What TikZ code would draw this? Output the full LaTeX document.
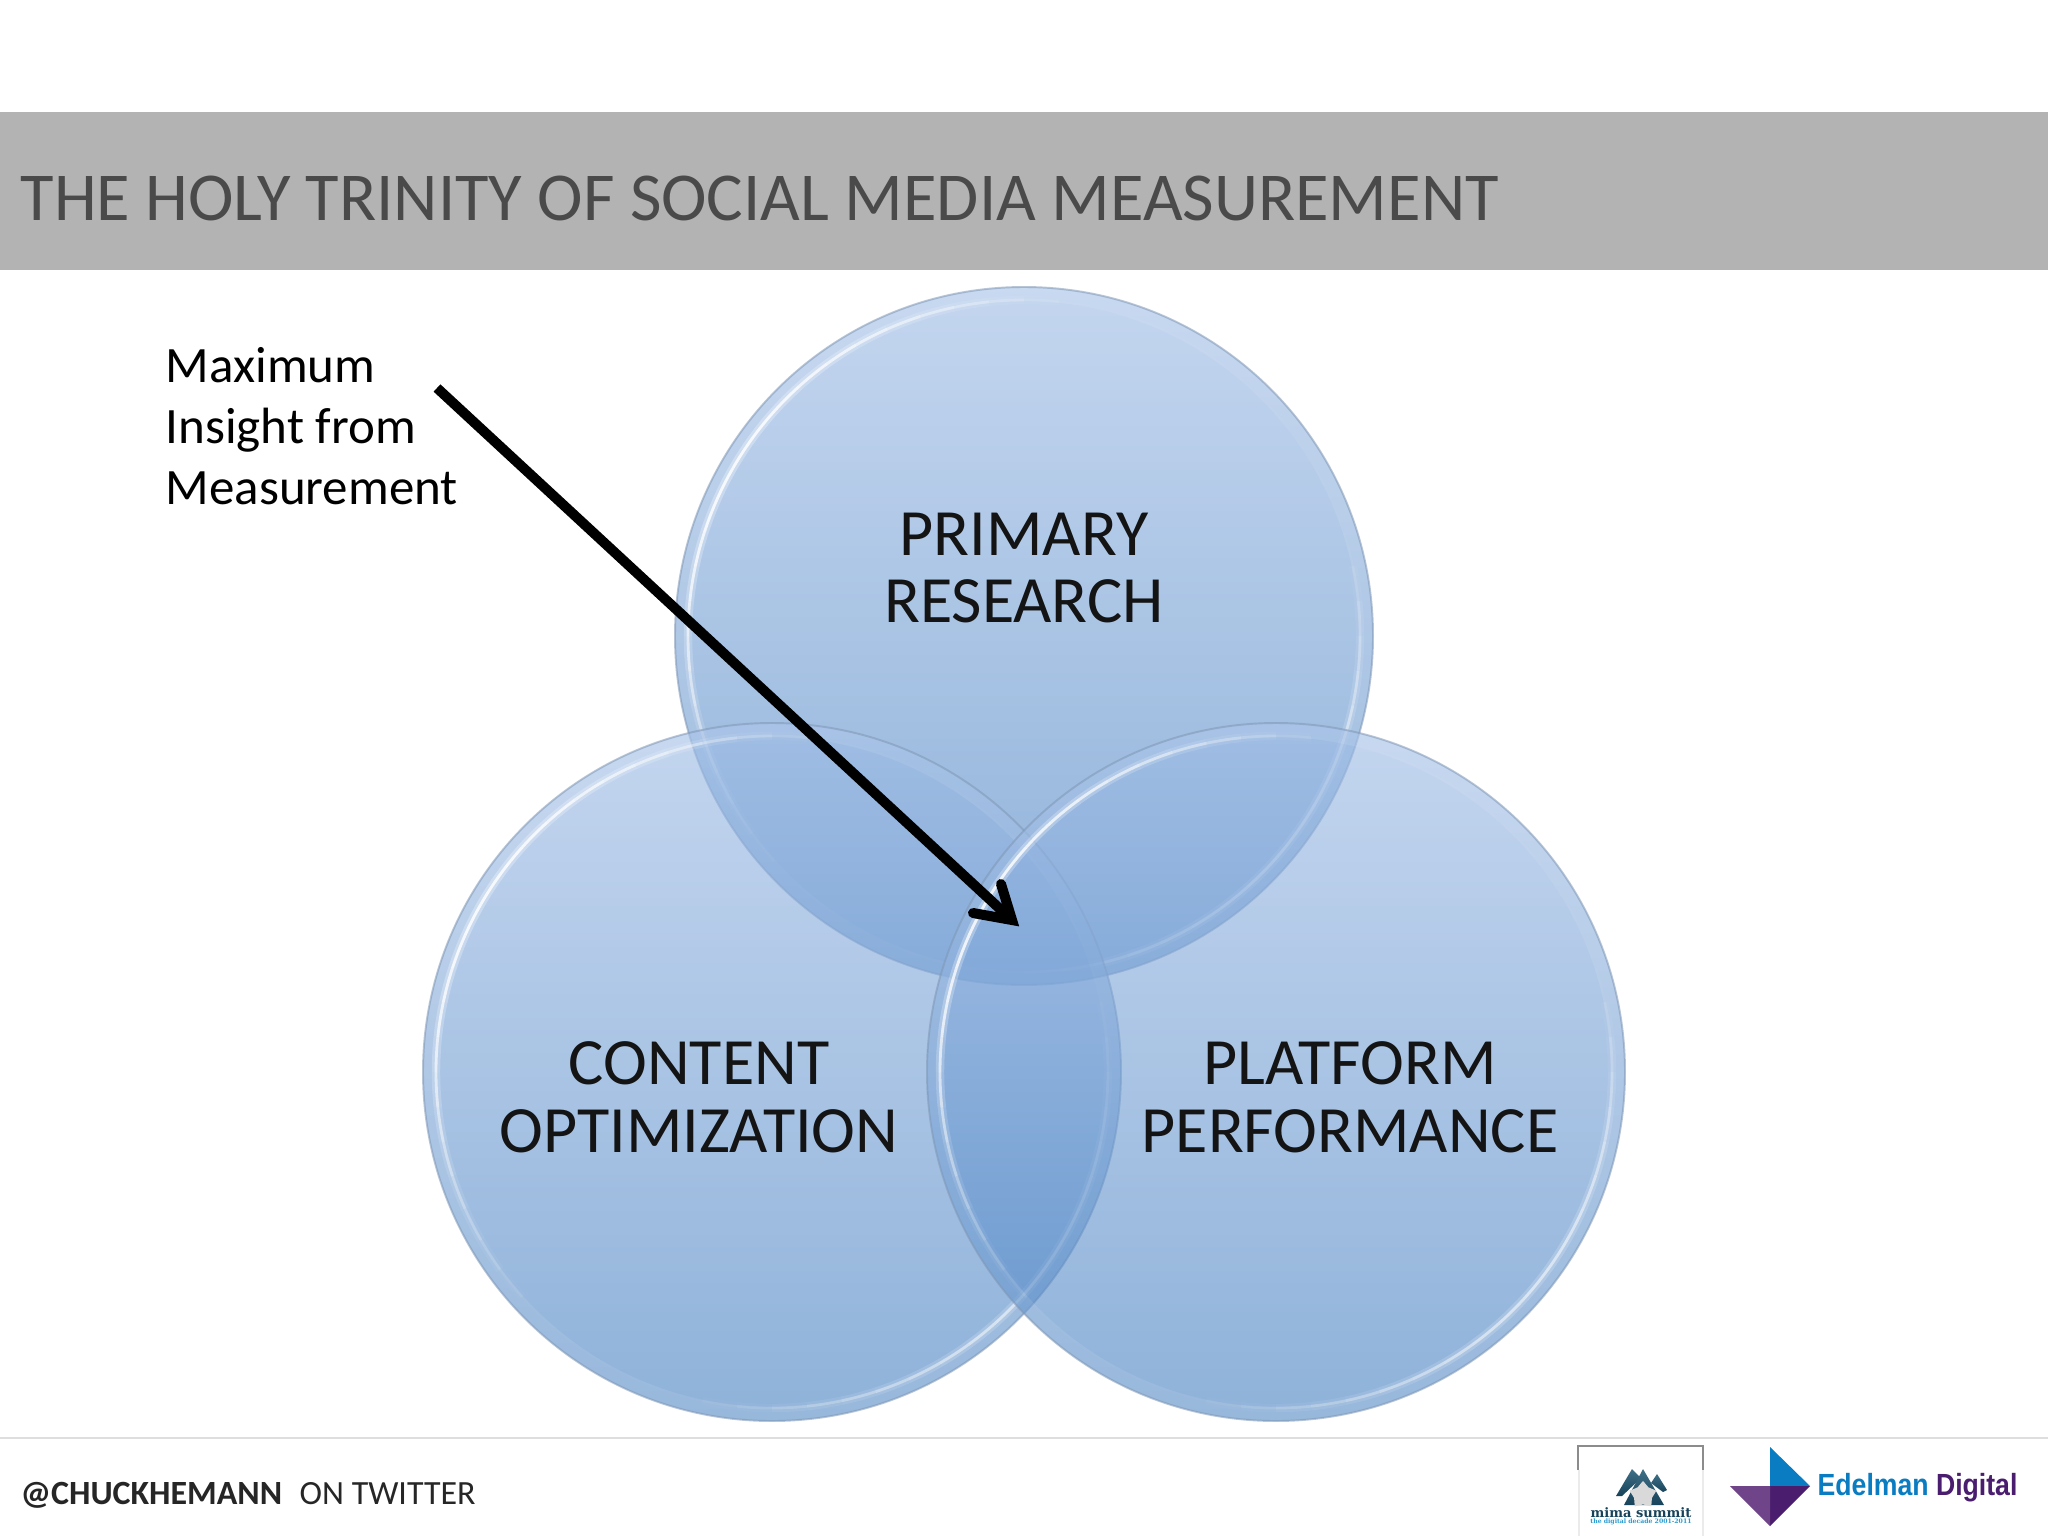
\documentclass[tikz,border=0pt]{standalone}
\usepackage{fontspec}
\setmainfont{Carlito}
\newfontfamily\logosans[FakeStretch=0.87]{Liberation Sans}
\newfontfamily\logoserif{DejaVu Serif}
\usetikzlibrary{calc,shapes.geometric}
\definecolor{bandgray}{HTML}{B3B3B3}
\definecolor{titlegray}{HTML}{4A4A4A}
\definecolor{rimline}{HTML}{7F97B5}
\definecolor{ballbot}{HTML}{4A83C3}
\definecolor{balltop}{HTML}{A0BDE6}
\definecolor{eblue}{HTML}{0A7CC1}
\definecolor{epurple}{HTML}{4A1D6E}
\definecolor{epurplel}{HTML}{6F4489}
\definecolor{mimadark}{HTML}{17435A}
\definecolor{mimamid}{HTML}{3F7088}
\definecolor{mimablue}{HTML}{2A9BD0}
\tikzset{
  x=0.01cm,y=-0.01cm,
  balllabel/.style={align=center,font=\fontsize{18.8}{19.3}\selectfont,text=black!92,inner sep=0pt},
  notelabel/.style={align=left,font=\fontsize{14.5}{17.3}\selectfont,anchor=north west,inner sep=0pt},
  arrowstroke/.style={line width=2.85pt,black},
}
\newcommand{\glassball}[2]{%
  \shade[top color=balltop,bottom color=ballbot,shading angle=0,opacity=.62] (#1,#2) circle (349);
  \fill[white,opacity=.08,even odd rule] (#1,#2) circle (349) (#1,#2) circle (335);
  \draw[rimline,line width=.55pt,opacity=.55] (#1,#2) circle (349);
  \foreach \t in {0,6,...,354}{
    \pgfmathsetmacro{\a}{max(0.02,min(1,.27+.40*cos(2*(\t+3-215))+.18*cos(\t+3-180)))}
    \pgfmathsetmacro{\b}{.35*\a}
    \draw[white,line width=2.4pt,opacity=\b] ([shift={(#1,#2)}]\t:336) arc[start angle=\t,end angle=\t+6,radius=336];
    \draw[white,line width=.8pt,opacity=\a] ([shift={(#1,#2)}]\t:336) arc[start angle=\t,end angle=\t+6,radius=336];
  }
}
\begin{document}
\begin{tikzpicture}
\useasboundingbox (0,0) rectangle (2048,1536);
\fill[white] (0,0) rectangle (2048,1536);
\fill[bandgray] (0,112) rectangle (2048,270);
\node[anchor=west,inner sep=0pt,text=titlegray,font=\fontsize{19.5}{24}\selectfont] (title) at (20,198) {THE HOLY TRINITY OF SOCIAL MEDIA MEASUREMENT};
\draw[black!13,line width=.5pt] (0,1438) -- (2048,1438);
% circles
\glassball{1024}{636}
\glassball{772}{1072}
\glassball{1276}{1072}
\node[balllabel] (primary) at (1024,568) {PRIMARY\\RESEARCH};
\node[balllabel] (content) at (699,1097) {CONTENT\\OPTIMIZATION};
\node[balllabel] (platform) at (1350,1097) {PLATFORM\\PERFORMANCE};
\node[notelabel] (note) at (165,347) {Maximum\\Insight from\\Measurement};
\coordinate (astart) at (437,388);
\coordinate (aend) at (1012,920);
\coordinate (h1) at (1001,884);
\coordinate (h2) at (973,913);
\draw[arrowstroke] (astart) -- (aend);
\draw[arrowstroke,line cap=round,miter limit=10] (h1) -- (aend) -- (h2);
\node[anchor=west,inner sep=0pt,font=\fontsize{9.65}{11}\selectfont,text=black!85] (handle) at (20,1495) {\textbf{@CHUCKHEMANN}\hspace{5pt}ON TWITTER};
% mima logo
\draw[black!45,line width=.4pt] (1578,1470) |- (1703,1446) -- (1703,1470);
\draw[black!8,line width=.4pt] (1579,1470) -- (1579,1536) (1703,1470) -- (1703,1536);
\shade[top color=mimamid,bottom color=mimadark] (1632,1469) -- (1641,1478) -- (1622,1496) -- (1616,1496) -- cycle;
\shade[top color=mimamid,bottom color=mimadark] (1657,1474) -- (1667,1490) -- (1663,1492) -- (1651,1483) -- cycle;
\shade[top color=mimamid,bottom color=mimadark] (1643,1469) -- (1664,1505) -- (1624,1505) -- cycle;
\node[fill=white!85!black,star,star points=5,inner sep=0pt,minimum size=8pt] (mimastar) at (1643,1495) {};
\node[inner sep=0pt,font=\logoserif\fontsize{3.7}{4.5}\bfseries\selectfont,text=mimadark] (mima) at (1641,1513) {mima summit};
\node[inner sep=0pt,font=\logoserif\fontsize{1.75}{2.5}\bfseries\selectfont,text=mimablue] (decade) at (1641,1522) {the digital decade 2001-2011};
% edelman
\fill[eblue] (1770,1447) -- (1810,1486) -- (1770,1486) -- cycle;
\fill[epurple] (1770,1486) -- (1810,1486) -- (1770,1526) -- cycle;
\fill[epurplel] (1770,1486) -- (1770,1526) -- (1730,1486) -- cycle;
\node[anchor=west,inner sep=0pt,font=\logosans\fontsize{8.7}{10}\bfseries\selectfont] (edel) at (1817,1488) {\textcolor{eblue}{Edelman} \textcolor{epurple}{Digital}};
\end{tikzpicture}
\end{document}
